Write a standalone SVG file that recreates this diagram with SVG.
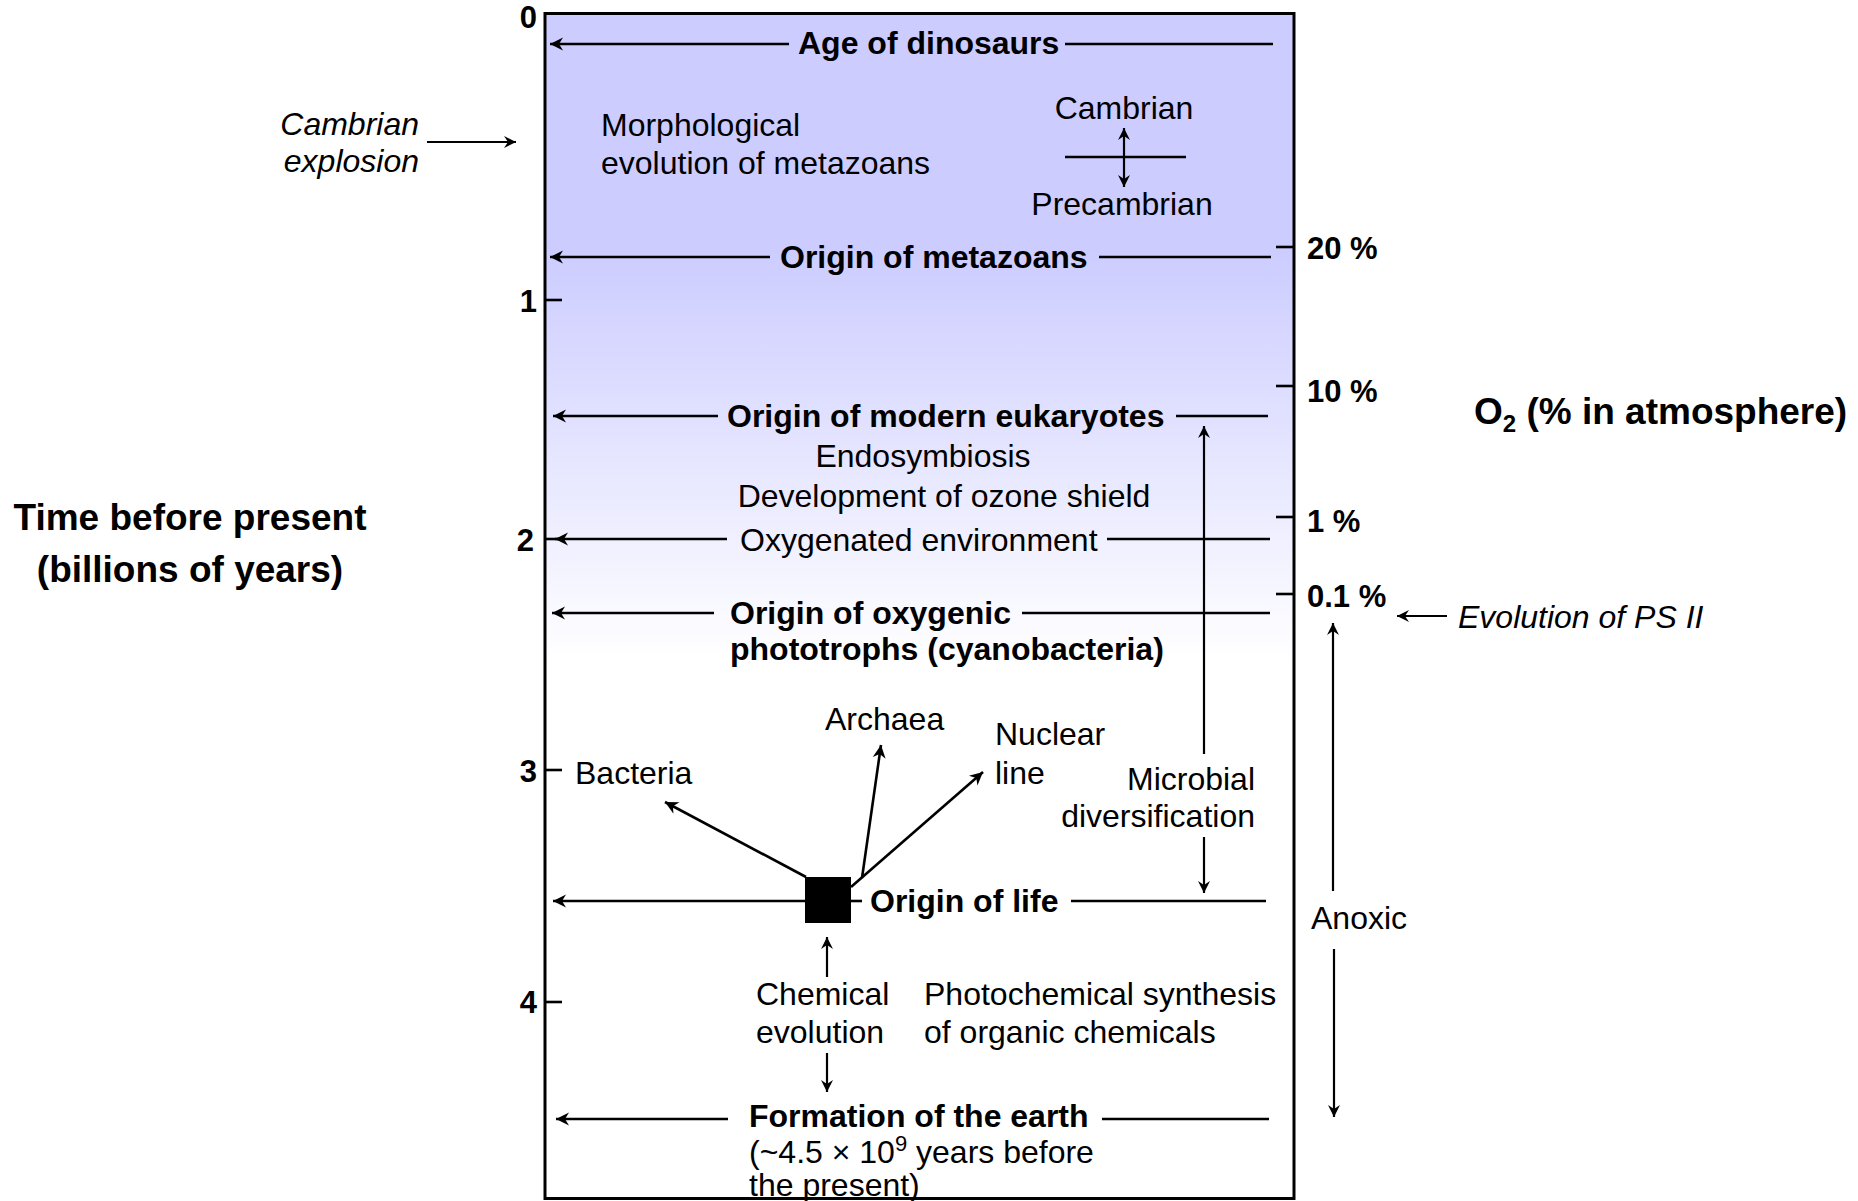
<svg xmlns="http://www.w3.org/2000/svg" width="1858" height="1201" viewBox="0 0 1858 1201">
<style>
text{font-family:"Liberation Sans",Arial,sans-serif;fill:#000}
.b{font-weight:bold;font-size:32px}
.r{font-size:32px}
.i{font-style:italic;font-size:32px}
.n{font-weight:bold;font-size:31px}
.big{font-weight:bold;font-size:37px}
.mid{text-anchor:middle}
.end{text-anchor:end}
.ln{stroke:#000;stroke-width:2.6;fill:none}
.ar{stroke:#000;stroke-width:2.6;fill:none;marker-end:url(#ah)}
.ar2{stroke:#000;stroke-width:2.2;fill:none;marker-end:url(#ah2)}
.tk{stroke:#000;stroke-width:2.6}
</style>
<defs>
<linearGradient id="bg" gradientUnits="userSpaceOnUse" x1="0" y1="250" x2="0" y2="660">
<stop offset="0" stop-color="#CCCCFF"/>
<stop offset="1" stop-color="#FFFFFF"/>
</linearGradient>
<marker id="ah" viewBox="-14 -8 16 16" refX="0" refY="0" markerWidth="16" markerHeight="16" markerUnits="userSpaceOnUse" orient="auto">
<path d="M0,0 L-13,-6.5 L-9,0 L-13,6.5 Z" fill="#000"/>
</marker>
<marker id="ah2" viewBox="-14 -8 16 16" refX="0" refY="0" markerWidth="16" markerHeight="16" markerUnits="userSpaceOnUse" orient="auto">
<path d="M0,0 L-12,-6 L-8,0 L-12,6 Z" fill="#000"/>
</marker>
</defs>

<g id="timeline-box">
<rect x="545" y="13.5" width="749" height="1185" fill="url(#bg)" stroke="#000" stroke-width="3"/>
</g>

<g id="axis-left">
<line class="tk" x1="545" y1="300" x2="562" y2="300"/>
<line class="tk" x1="545" y1="539" x2="562" y2="539"/>
<line class="tk" x1="545" y1="770" x2="562" y2="770"/>
<line class="tk" x1="545" y1="1002" x2="562" y2="1002"/>
<text class="n end" x="537" y="28">0</text>
<text class="n end" x="537" y="312">1</text>
<text class="n end" x="534" y="551">2</text>
<text class="n end" x="537" y="782">3</text>
<text class="n end" x="537" y="1013">4</text>
<text class="big mid" x="190" y="530">Time before present</text>
<text class="big mid" x="190" y="582">(billions of years)</text>
</g>

<g id="axis-right">
<line class="tk" x1="1276" y1="247" x2="1294" y2="247"/>
<line class="tk" x1="1276" y1="386" x2="1294" y2="386"/>
<line class="tk" x1="1276" y1="517" x2="1294" y2="517"/>
<line class="tk" x1="1276" y1="594" x2="1294" y2="594"/>
<text class="n" x="1307" y="259">20 %</text>
<text class="n" x="1307" y="402">10 %</text>
<text class="n" x="1307" y="532">1 %</text>
<text class="n" x="1307" y="607">0.1 %</text>
<text class="big" x="1474" y="424">O<tspan font-size="24" dy="8">2</tspan><tspan dy="-8"> (% in atmosphere)</tspan></text>
</g>

<g id="connectors">
<line class="ar" x1="789" y1="44" x2="550" y2="44"/>
<line class="ln" x1="1065" y1="44" x2="1273" y2="44"/>
<line class="ar" x1="770" y1="257" x2="550" y2="257"/>
<line class="ln" x1="1099" y1="257" x2="1271" y2="257"/>
<line class="ar" x1="718" y1="416" x2="553" y2="416"/>
<line class="ln" x1="1176" y1="416" x2="1268" y2="416"/>
<line class="ar" x1="727" y1="539" x2="555" y2="539"/>
<line class="ln" x1="1107" y1="539" x2="1270" y2="539"/>
<line class="ar" x1="714" y1="613" x2="552" y2="613"/>
<line class="ln" x1="1022" y1="613" x2="1270" y2="613"/>
<line class="ar" x1="805" y1="901" x2="553" y2="901"/>
<line class="ln" x1="851" y1="901" x2="862" y2="901"/>
<line class="ln" x1="1071" y1="901" x2="1266" y2="901"/>
<line class="ar" x1="728" y1="1119" x2="556" y2="1119"/>
<line class="ln" x1="1102" y1="1119" x2="1269" y2="1119"/>
<line class="ar2" x1="427" y1="142" x2="516" y2="142"/>
<line class="ar2" x1="1124" y1="157" x2="1124" y2="128"/>
<line class="ar2" x1="1124" y1="157" x2="1124" y2="187"/>
<line class="ln" x1="1065" y1="157" x2="1186" y2="157"/>
<line class="ar2" x1="1204" y1="754" x2="1204" y2="426"/>
<line class="ar2" x1="1204" y1="837" x2="1204" y2="893"/>
<line class="ar" x1="806" y1="877" x2="665" y2="802"/>
<line class="ar" x1="862" y1="878" x2="881" y2="745"/>
<line class="ar" x1="851" y1="887" x2="983" y2="772"/>
<line class="ar2" x1="827" y1="977" x2="827" y2="937"/>
<line class="ar2" x1="827" y1="1053" x2="827" y2="1092"/>
<line class="ar2" x1="1333" y1="891" x2="1333" y2="623"/>
<line class="ar2" x1="1334" y1="949" x2="1334" y2="1117"/>
<line class="ar2" x1="1447" y1="616" x2="1397" y2="616"/>
</g>

<g id="n-dinosaurs"><text class="b" x="798" y="54">Age of dinosaurs</text></g>
<g id="n-morph"><text class="r" x="601" y="136">Morphological</text><text class="r" x="601" y="174">evolution of metazoans</text></g>
<g id="n-cambrian"><text class="r mid" x="1124" y="119">Cambrian</text><text class="r mid" x="1122" y="215">Precambrian</text></g>
<g id="n-cambrian-explosion"><text class="i end" x="419" y="135">Cambrian</text><text class="i end" x="419" y="172">explosion</text></g>
<g id="n-metazoans"><text class="b" x="780" y="268">Origin of metazoans</text></g>
<g id="n-eukaryotes"><text class="b" x="727" y="427">Origin of modern eukaryotes</text></g>
<g id="n-endo"><text class="r mid" x="923" y="467">Endosymbiosis</text><text class="r mid" x="944" y="507">Development of ozone shield</text></g>
<g id="n-oxygenated"><text class="r" x="740" y="551">Oxygenated environment</text></g>
<g id="n-oxygenic"><text class="b" x="730" y="624">Origin of oxygenic</text><text class="b" x="730" y="660">phototrophs (cyanobacteria)</text></g>
<g id="n-psii"><text class="i" x="1458" y="628">Evolution of PS II</text></g>
<g id="n-archaea"><text class="r" x="825" y="730">Archaea</text></g>
<g id="n-nuclear"><text class="r" x="995" y="745">Nuclear</text><text class="r" x="995" y="784">line</text></g>
<g id="n-bacteria"><text class="r" x="575" y="784">Bacteria</text></g>
<g id="n-microbial"><text class="r end" x="1255" y="790">Microbial</text><text class="r end" x="1255" y="827">diversification</text></g>
<g id="n-origin-life"><rect x="805" y="877" width="46" height="46" fill="#000"/><text class="b" x="870" y="912">Origin of life</text></g>
<g id="n-anoxic"><text class="r" x="1311" y="929">Anoxic</text></g>
<g id="n-chemical"><text class="r" x="756" y="1005">Chemical</text><text class="r" x="756" y="1043">evolution</text></g>
<g id="n-photochem"><text class="r" x="924" y="1005">Photochemical synthesis</text><text class="r" x="924" y="1043">of organic chemicals</text></g>
<g id="n-formation"><text class="b" x="749" y="1127">Formation of the earth</text><text class="r" x="749" y="1163">(~4.5 × 10<tspan font-size="22" dy="-12">9</tspan><tspan dy="12"> years before</tspan></text><text class="r" x="749" y="1196">the present)</text></g>
</svg>
